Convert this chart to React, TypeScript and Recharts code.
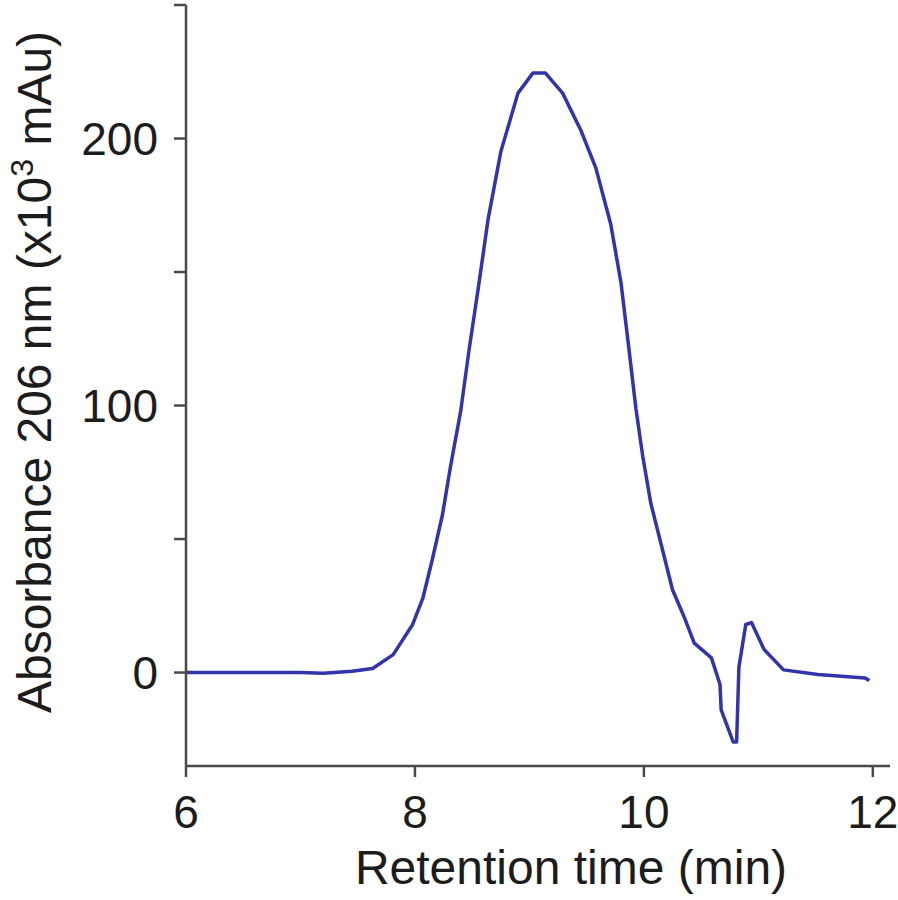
import React from 'react';
import { LineChart, Line, XAxis, YAxis, Label } from 'recharts';

// retention time (min) and absorbance (x10^3 mAu)
const times = [
  6.0, 6.5, 7.0, 7.2, 7.45, 7.63, 7.81, 7.98, 8.07, 8.15, 8.24, 8.31, 8.4, 8.47, 8.56,
  8.64, 8.75, 8.9, 9.03, 9.14, 9.29, 9.45, 9.58, 9.71, 9.8, 9.87, 9.93, 9.99, 10.06,
  10.18, 10.25, 10.35, 10.44, 10.59, 10.665, 10.675, 10.78, 10.81, 10.83, 10.89, 10.94,
  11.05, 11.22, 11.52, 11.93, 11.97,
];
const absorbance = [
  0, 0, 0, -0.3, 0.5, 1.5, 6.7, 18, 28, 42, 59, 77, 98, 120, 146,
  170, 195, 217, 224.5, 224.5, 217, 203, 189, 168, 146, 121, 99, 81, 63.5,
  43, 31, 21, 11, 5.5, -4.5, -14, -26, -26, 2, 18, 18.7,
  8.6, 1, -0.7, -2, -3,
];

const xTicks = [6, 8, 10, 12];
const yTicks = [0, 50, 100, 150, 200, 250];
const yLabelled = [0, 100, 200];

const data = times.map((t, i) => ({ t, a: absorbance[i] }));

const FONT = '"Liberation Sans", Arial, Helvetica, sans-serif';
const AXIS = '#4a4a4a';
const TEXT = '#1c1c1c';
const TRACE = '#3333aa';

const XTitle = (props: any) => {
  const vb = props.viewBox || {};
  const cx = vb.x + vb.width / 2 + 33;
  return (
    <text x={cx} y={884} textAnchor="middle" fontFamily={FONT} fontSize={48} fill={TEXT}>
      Retention time (min)
    </text>
  );
};

const YTitle = () => {
  const x = 51;
  const y = 372;
  return (
    <text
      x={x}
      y={y}
      transform={`rotate(-90, ${x}, ${y})`}
      textAnchor="middle"
      fontFamily={FONT}
      fontSize={48}
      fill={TEXT}
    >
      <tspan>Absorbance 206 nm (x10</tspan>
      <tspan fontSize={32} dy={-18}>3</tspan>
      <tspan dy={18}> mAu)</tspan>
    </text>
  );
};

export default function App() {
  return (
    <div style={{ position: 'absolute', left: 0, top: 0, width: 898, height: 900, background: '#fff' }}>
      <LineChart
        width={898}
        height={900}
        data={data}
        margin={{ top: 5, right: 8, left: 0, bottom: 0 }}
      >
        <XAxis
          dataKey="t"
          type="number"
          domain={[6, 12.15]}
          ticks={xTicks}
          interval={0}
          height={134}
          tickSize={11}
          tickMargin={18}
          axisLine={{ stroke: AXIS, strokeWidth: 2.5 }}
          tickLine={{ stroke: AXIS, strokeWidth: 2.5 }}
          tick={{ fill: TEXT, fontSize: 46, fontFamily: FONT }}
        >
          <Label content={XTitle} />
        </XAxis>
        <YAxis
          type="number"
          domain={[-35, 250]}
          ticks={yTicks}
          interval={0}
          width={186}
          tickSize={12}
          tickMargin={16}
          tickFormatter={(v: number) => (yLabelled.includes(v) ? String(v) : '')}
          axisLine={{ stroke: AXIS, strokeWidth: 2.5 }}
          tickLine={{ stroke: AXIS, strokeWidth: 2.5 }}
          tick={{ fill: TEXT, fontSize: 46, fontFamily: FONT }}
        >
          <Label content={YTitle} />
        </YAxis>
        <Line
          type="linear"
          dataKey="a"
          stroke={TRACE}
          strokeWidth={3.5}
          strokeLinejoin="round"
          dot={false}
          isAnimationActive={false}
        />
      </LineChart>
    </div>
  );
}
